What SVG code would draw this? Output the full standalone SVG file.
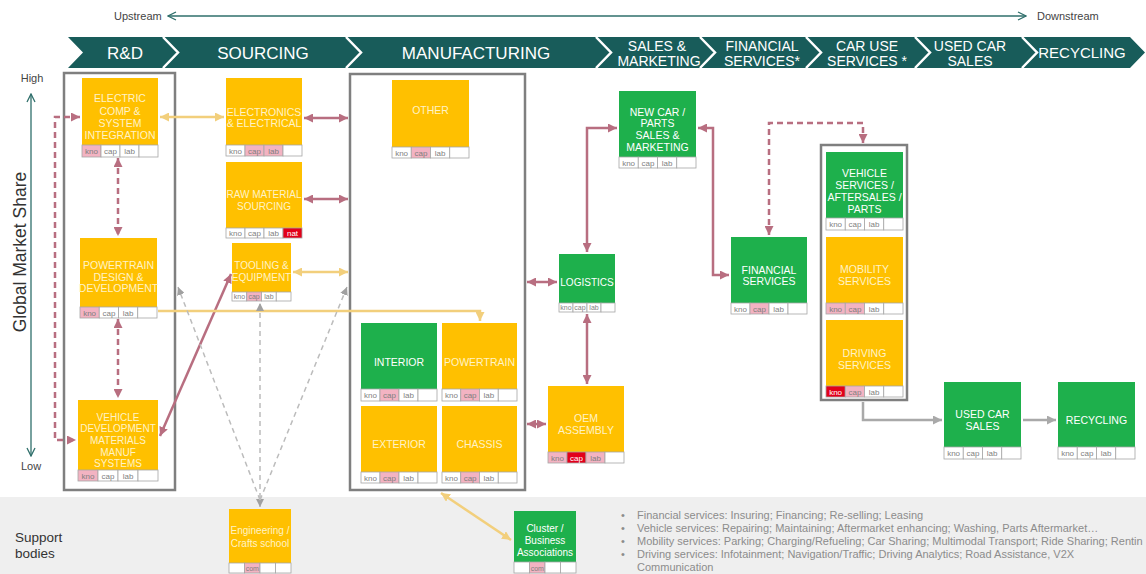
<svg xmlns="http://www.w3.org/2000/svg" width="1146" height="574" viewBox="0 0 1146 574">
<defs>
<style>
text{font-family:"Liberation Sans",Arial,sans-serif}
.y{fill:#ffc000}.g{fill:#1eb04c}
.c{fill:#fff;stroke:#a6a6a6;stroke-width:.8}.p{fill:#f3b3c2;stroke:#a6a6a6;stroke-width:.8}.r{fill:#e2001a;stroke:#a6a6a6;stroke-width:.8}
.nt{font-size:10.5px;text-anchor:middle;fill:#fff3c6}
.ng{font-size:10.5px;text-anchor:middle;fill:#fff}
.ct{font-size:8px;text-anchor:middle;fill:#7f7f7f}
.cw{fill:#fff}
.fr{fill:none;stroke:#7f7f7f;stroke-width:2.5}
.m{fill:none;stroke:#b86e80;stroke-width:2.5}
.md{fill:none;stroke:#b86e80;stroke-width:2.5;stroke-dasharray:6 4}
.yl{fill:none;stroke:#f2cf7c;stroke-width:2.5}
.gl{fill:none;stroke:#a9a9a9;stroke-width:2.5}
.gd{fill:none;stroke:#bcbcbc;stroke-width:1.5;stroke-dasharray:5 4}
.tl{fill:none;stroke:#2f6f6b;stroke-width:1.3}
.ch{fill:#fff;font-size:17px;text-anchor:middle}
.ch2{fill:#fff;font-size:14px;text-anchor:middle}
.bl{font-size:11px;fill:#8c8c8c}
.lb{font-size:11px;fill:#444}
</style>
<marker id="am" viewBox="0 0 10 10" refX="10" refY="5" markerWidth="9" markerHeight="9" markerUnits="userSpaceOnUse" orient="auto-start-reverse"><path d="M0,0 L10,5 L0,10 z" fill="#b86e80"/></marker>
<marker id="ay" viewBox="0 0 10 10" refX="10" refY="5" markerWidth="9" markerHeight="9" markerUnits="userSpaceOnUse" orient="auto-start-reverse"><path d="M0,0 L10,5 L0,10 z" fill="#f2cf7c"/></marker>
<marker id="ag" viewBox="0 0 10 10" refX="10" refY="5" markerWidth="9" markerHeight="9" markerUnits="userSpaceOnUse" orient="auto-start-reverse"><path d="M0,0 L10,5 L0,10 z" fill="#a9a9a9"/></marker>
<marker id="agl" viewBox="0 0 10 10" refX="10" refY="5" markerWidth="8" markerHeight="8" markerUnits="userSpaceOnUse" orient="auto-start-reverse"><path d="M0,0 L10,5 L0,10 z" fill="#a0a0a0"/></marker>
<marker id="at" viewBox="0 0 10 10" refX="9" refY="5" markerWidth="10" markerHeight="10" markerUnits="userSpaceOnUse" orient="auto-start-reverse"><path d="M1,1 L9,5 L1,9" fill="none" stroke="#2f6f6b" stroke-width="1.3"/></marker>
</defs>
<rect width="1146" height="574" fill="#fff"/>

<g id="header">
<text class="lb" x="114" y="20">Upstream</text>
<text class="lb" x="1037" y="20">Downstream</text>
<path class="tl" d="M168,16 H1026" marker-start="url(#at)" marker-end="url(#at)"/>
<polygon points="68,37 1130,37 1145,52.5 1130,68 68,68 83,52.5" fill="#185c5a"/>
<g fill="none" stroke="#fff" stroke-width="2.5">
<polyline points="163,37 178,52.5 163,68"/>
<polyline points="346,37 361,52.5 346,68"/>
<polyline points="596,37 611,52.5 596,68"/>
<polyline points="700,37 715,52.5 700,68"/>
<polyline points="806,37 821,52.5 806,68"/>
<polyline points="915,37 930,52.5 915,68"/>
<polyline points="1022,37 1037,52.5 1022,68"/>
</g>
<text class="ch" x="125" y="59">R&amp;D</text>
<text class="ch" x="263" y="59">SOURCING</text>
<text class="ch" x="476" y="59">MANUFACTURING</text>
<text class="ch2"><tspan x="657" y="51">SALES &amp;</tspan><tspan x="659" y="66">MARKETING</tspan></text>
<text class="ch2"><tspan x="762" y="51">FINANCIAL</tspan><tspan x="762" y="66">SERVICES*</tspan></text>
<text class="ch2"><tspan x="867" y="51">CAR USE</tspan><tspan x="867" y="66">SERVICES *</tspan></text>
<text class="ch2"><tspan x="970" y="51">USED CAR</tspan><tspan x="970" y="66">SALES</tspan></text>
<text class="ch2" x="1082" y="58" style="font-size:15px">RECYCLING</text>
</g>

<g id="axis">
<text class="lb" x="32" y="82" text-anchor="middle">High</text>
<text class="lb" x="31" y="470" text-anchor="middle">Low</text>
<path class="tl" d="M31,94 V456" stroke-width="1.5" marker-start="url(#at)" marker-end="url(#at)"/>
<text x="26" y="252" transform="rotate(-90 26 252)" text-anchor="middle" font-size="17.5" fill="#333">Global Market Share</text>
</g>

<rect id="support-band" x="0" y="497" width="1146" height="77" fill="#efefef"/>

<g id="frames">
<rect class="fr" x="64" y="73" width="111" height="417"/>
<rect class="fr" x="350" y="74" width="175" height="416"/>
<rect class="fr" x="821" y="145" width="86" height="255"/>
</g>

<g id="connectors">
<path class="md" d="M80,117 H55 V440 H76" marker-start="url(#am)" marker-end="url(#am)"/>
<path class="md" d="M118,158 V236" marker-start="url(#am)" marker-end="url(#am)"/>
<path class="md" d="M118,319 V398" marker-start="url(#am)" marker-end="url(#am)"/>
<path class="m" d="M160,436 L231,274" marker-start="url(#am)" marker-end="url(#am)"/>
<path class="yl" d="M160,117 H224" marker-start="url(#ay)" marker-end="url(#ay)"/>
<path class="m" d="M304,118 H348" marker-start="url(#am)" marker-end="url(#am)"/>
<path class="m" d="M304,199 H348" marker-start="url(#am)" marker-end="url(#am)"/>
<path class="yl" d="M293,272 H348" marker-start="url(#ay)" marker-end="url(#ay)"/>
<path class="yl" d="M158,311 H480 V321" marker-end="url(#ay)"/>
<path class="gd" d="M260,507 V303" marker-start="url(#agl)" marker-end="url(#agl)"/>
<path class="gd" d="M260,500 L178,287" marker-end="url(#agl)"/>
<path class="gd" d="M260,500 L347,287" marker-end="url(#agl)"/>
<path class="m" d="M527,282 H557" marker-start="url(#am)" marker-end="url(#am)"/>
<path class="m" d="M587,252 V128 H617" marker-start="url(#am)" marker-end="url(#am)"/>
<path class="m" d="M698,128 H713 V275 H729" marker-start="url(#am)" marker-end="url(#am)"/>
<path class="m" d="M587,314 V384" marker-start="url(#am)" marker-end="url(#am)"/>
<path class="m" d="M527,424 H546" marker-start="url(#am)" marker-end="url(#am)"/>
<path class="md" d="M769,235 V123 H863 V143" marker-start="url(#am)" marker-end="url(#am)"/>
<path class="gl" d="M863,402 V420 H942" marker-end="url(#ag)"/>
<path class="gl" d="M1023,420 H1056" marker-end="url(#ag)"/>
<path class="yl" d="M441,493 L511,540" marker-start="url(#ay)" marker-end="url(#ay)"/>
</g>

<g id="rd-electric">
<rect class="y" x="82" y="78" width="76" height="67"/>
<text class="nt"><tspan x="120" y="102">ELECTRIC</tspan><tspan x="120" y="115">COMP &amp;</tspan><tspan x="120" y="127">SYSTEM</tspan><tspan x="120" y="139">INTEGRATION</tspan></text>
<rect class="p" x="82" y="145" width="19" height="12"/><rect class="c" x="101" y="145" width="19" height="12"/><rect class="c" x="120" y="145" width="19" height="12"/><rect class="c" x="139" y="145" width="19" height="12"/>
<text class="ct" x="91.5" y="154">kno</text><text class="ct" x="110.5" y="154">cap</text><text class="ct" x="129.5" y="154">lab</text>
</g>

<g id="rd-powertrain">
<rect class="y" x="80" y="238" width="77" height="69"/>
<text class="nt"><tspan x="118.5" y="269">POWERTRAIN</tspan><tspan x="118.5" y="281">DESIGN &amp;</tspan><tspan x="118.5" y="292">DEVELOPMENT</tspan></text>
<rect class="p" x="80" y="307" width="19.25" height="11"/><rect class="c" x="99.25" y="307" width="19.25" height="11"/><rect class="c" x="118.5" y="307" width="19.25" height="11"/><rect class="c" x="137.75" y="307" width="19.25" height="11"/>
<text class="ct" x="89.6" y="315.5">kno</text><text class="ct" x="108.9" y="315.5">cap</text><text class="ct" x="128.1" y="315.5">lab</text>
</g>

<g id="rd-vehicle">
<rect class="y" x="78" y="400" width="80" height="70"/>
<text class="nt" style="font-size:10px"><tspan x="118" y="421">VEHICLE</tspan><tspan x="118" y="432">DEVELOPMENT</tspan><tspan x="118" y="444">MATERIALS</tspan><tspan x="118" y="456">MANUF</tspan><tspan x="118" y="467">SYSTEMS</tspan></text>
<rect class="p" x="78" y="470" width="20" height="11"/><rect class="c" x="98" y="470" width="20" height="11"/><rect class="c" x="118" y="470" width="20" height="11"/><rect class="c" x="138" y="470" width="20" height="11"/>
<text class="ct" x="88" y="478.5">kno</text><text class="ct" x="108" y="478.5">cap</text><text class="ct" x="128" y="478.5">lab</text>
</g>

<g id="src-electronics">
<rect class="y" x="226" y="78" width="76" height="67"/>
<text class="nt"><tspan x="264" y="116">ELECTRONICS</tspan><tspan x="264" y="127">&amp; ELECTRICAL</tspan></text>
<rect class="c" x="226" y="145" width="19" height="11"/><rect class="p" x="245" y="145" width="19" height="11"/><rect class="p" x="264" y="145" width="19" height="11"/><rect class="c" x="283" y="145" width="19" height="11"/>
<text class="ct" x="235.5" y="153.5">kno</text><text class="ct" x="254.5" y="153.5">cap</text><text class="ct" x="273.5" y="153.5">lab</text>
</g>

<g id="src-raw">
<rect class="y" x="226" y="162" width="76" height="66"/>
<text class="nt" style="font-size:10px"><tspan x="264" y="198">RAW MATERIAL</tspan><tspan x="264" y="210">SOURCING</tspan></text>
<rect class="c" x="226" y="228" width="19" height="10"/><rect class="c" x="245" y="228" width="19" height="10"/><rect class="c" x="264" y="228" width="19" height="10"/><rect class="r" x="283" y="228" width="19" height="10"/>
<text class="ct" x="235.5" y="236">kno</text><text class="ct" x="254.5" y="236">cap</text><text class="ct" x="273.5" y="236">lab</text><text class="ct cw" x="292.5" y="236">nat</text>
</g>

<g id="src-tooling">
<rect class="y" x="232" y="243" width="59" height="49"/>
<text class="nt" style="font-size:10px"><tspan x="261.5" y="269">TOOLING &amp;</tspan><tspan x="261.5" y="281">EQUIPMENT</tspan></text>
<rect class="c" x="232" y="292" width="14.75" height="9"/><rect class="p" x="246.75" y="292" width="14.75" height="9"/><rect class="c" x="261.5" y="292" width="14.75" height="9"/><rect class="c" x="276.25" y="292" width="14.75" height="9"/>
<text class="ct" x="239.4" y="299" style="font-size:7px">kno</text><text class="ct" x="254.1" y="299" style="font-size:7px">cap</text><text class="ct" x="268.9" y="299" style="font-size:7px">lab</text>
</g>

<g id="mf-other">
<rect class="y" x="392" y="80" width="77" height="67"/>
<text class="nt" x="430.5" y="114">OTHER</text>
<rect class="c" x="392" y="147" width="19.25" height="11"/><rect class="p" x="411.25" y="147" width="19.25" height="11"/><rect class="c" x="430.5" y="147" width="19.25" height="11"/><rect class="c" x="449.75" y="147" width="19.25" height="11"/>
<text class="ct" x="401.6" y="155.5">kno</text><text class="ct" x="420.9" y="155.5">cap</text><text class="ct" x="440.1" y="155.5">lab</text>
</g>

<g id="mf-interior">
<rect class="g" x="361" y="323" width="76" height="66"/>
<text class="ng" x="399" y="366">INTERIOR</text>
<rect class="c" x="361" y="389" width="19" height="12"/><rect class="p" x="380" y="389" width="19" height="12"/><rect class="c" x="399" y="389" width="19" height="12"/><rect class="c" x="418" y="389" width="19" height="12"/>
<text class="ct" x="370.5" y="398">kno</text><text class="ct" x="389.5" y="398">cap</text><text class="ct" x="408.5" y="398">lab</text>
</g>

<g id="mf-powertrain">
<rect class="y" x="442" y="323" width="75" height="66"/>
<text class="nt" x="479.5" y="366">POWERTRAIN</text>
<rect class="c" x="442" y="389" width="18.75" height="12"/><rect class="p" x="460.75" y="389" width="18.75" height="12"/><rect class="c" x="479.5" y="389" width="18.75" height="12"/><rect class="c" x="498.25" y="389" width="18.75" height="12"/>
<text class="ct" x="451.4" y="398">kno</text><text class="ct" x="470.1" y="398">cap</text><text class="ct" x="488.9" y="398">lab</text>
</g>

<g id="mf-exterior">
<rect class="y" x="361" y="406" width="76" height="66"/>
<text class="nt" x="399" y="448">EXTERIOR</text>
<rect class="c" x="361" y="472" width="19" height="11"/><rect class="p" x="380" y="472" width="19" height="11"/><rect class="c" x="399" y="472" width="19" height="11"/><rect class="c" x="418" y="472" width="19" height="11"/>
<text class="ct" x="370.5" y="480.5">kno</text><text class="ct" x="389.5" y="480.5">cap</text><text class="ct" x="408.5" y="480.5">lab</text>
</g>

<g id="mf-chassis">
<rect class="y" x="442" y="406" width="75" height="66"/>
<text class="nt" x="479.5" y="448">CHASSIS</text>
<rect class="c" x="442" y="472" width="18.75" height="11"/><rect class="p" x="460.75" y="472" width="18.75" height="11"/><rect class="c" x="479.5" y="472" width="18.75" height="11"/><rect class="c" x="498.25" y="472" width="18.75" height="11"/>
<text class="ct" x="451.4" y="480.5">kno</text><text class="ct" x="470.1" y="480.5">cap</text><text class="ct" x="488.9" y="480.5">lab</text>
</g>

<g id="oem-assembly">
<rect class="y" x="548" y="386" width="76" height="66"/>
<text class="nt"><tspan x="586" y="422">OEM</tspan><tspan x="586" y="434">ASSEMBLY</tspan></text>
<rect class="p" x="548" y="452" width="19" height="11"/><rect class="r" x="567" y="452" width="19" height="11"/><rect class="p" x="586" y="452" width="19" height="11"/><rect class="c" x="605" y="452" width="19" height="11"/>
<text class="ct" x="557.5" y="460.5">kno</text><text class="ct cw" x="576.5" y="460.5">cap</text><text class="ct" x="595.5" y="460.5">lab</text>
</g>

<g id="logistics">
<rect class="g" x="559" y="254" width="56" height="49"/>
<text class="ng" x="587" y="286" style="font-size:10px">LOGISTICS</text>
<rect class="c" x="559" y="303" width="14" height="9"/><rect class="c" x="573" y="303" width="14" height="9"/><rect class="c" x="587" y="303" width="14" height="9"/><rect class="c" x="601" y="303" width="14" height="9"/>
<text class="ct" x="566" y="310" style="font-size:7px">kno</text><text class="ct" x="580" y="310" style="font-size:7px">cap</text><text class="ct" x="594" y="310" style="font-size:7px">lab</text>
</g>

<g id="new-car-sales">
<rect class="g" x="619" y="91" width="77" height="66"/>
<text class="ng"><tspan x="657.5" y="116">NEW CAR /</tspan><tspan x="657.5" y="127">PARTS</tspan><tspan x="657.5" y="139">SALES &amp;</tspan><tspan x="657.5" y="151">MARKETING</tspan></text>
<rect class="c" x="619" y="157" width="19.25" height="11"/><rect class="c" x="638.25" y="157" width="19.25" height="11"/><rect class="c" x="657.5" y="157" width="19.25" height="11"/><rect class="c" x="676.75" y="157" width="19.25" height="11"/>
<text class="ct" x="628.6" y="165.5">kno</text><text class="ct" x="647.9" y="165.5">cap</text><text class="ct" x="667.1" y="165.5">lab</text>
</g>

<g id="financial-services">
<rect class="g" x="731" y="237" width="76" height="66"/>
<text class="ng"><tspan x="769" y="274">FINANCIAL</tspan><tspan x="769" y="285">SERVICES</tspan></text>
<rect class="c" x="731" y="303" width="19" height="11"/><rect class="p" x="750" y="303" width="19" height="11"/><rect class="c" x="769" y="303" width="19" height="11"/><rect class="c" x="788" y="303" width="19" height="11"/>
<text class="ct" x="740.5" y="311.5">kno</text><text class="ct" x="759.5" y="311.5">cap</text><text class="ct" x="778.5" y="311.5">lab</text>
</g>

<g id="vehicle-services">
<rect class="g" x="826" y="152" width="77" height="66"/>
<text class="ng"><tspan x="864.5" y="177">VEHICLE</tspan><tspan x="864.5" y="189">SERVICES /</tspan><tspan x="864.5" y="201">AFTERSALES /</tspan><tspan x="864.5" y="213">PARTS</tspan></text>
<rect class="c" x="826" y="218" width="19.25" height="12"/><rect class="c" x="845.25" y="218" width="19.25" height="12"/><rect class="c" x="864.5" y="218" width="19.25" height="12"/><rect class="c" x="883.75" y="218" width="19.25" height="12"/>
<text class="ct" x="835.6" y="227">kno</text><text class="ct" x="854.9" y="227">cap</text><text class="ct" x="874.1" y="227">lab</text>
</g>

<g id="mobility-services">
<rect class="y" x="826" y="237" width="77" height="66"/>
<text class="nt"><tspan x="864.5" y="273">MOBILITY</tspan><tspan x="864.5" y="285">SERVICES</tspan></text>
<rect class="p" x="826" y="303" width="19.25" height="11"/><rect class="p" x="845.25" y="303" width="19.25" height="11"/><rect class="c" x="864.5" y="303" width="19.25" height="11"/><rect class="c" x="883.75" y="303" width="19.25" height="11"/>
<text class="ct" x="835.6" y="311.5">kno</text><text class="ct" x="854.9" y="311.5">cap</text><text class="ct" x="874.1" y="311.5">lab</text>
</g>

<g id="driving-services">
<rect class="y" x="826" y="320" width="77" height="66"/>
<text class="nt"><tspan x="864.5" y="357">DRIVING</tspan><tspan x="864.5" y="369">SERVICES</tspan></text>
<rect class="r" x="826" y="386" width="19.25" height="11"/><rect class="p" x="845.25" y="386" width="19.25" height="11"/><rect class="c" x="864.5" y="386" width="19.25" height="11"/><rect class="c" x="883.75" y="386" width="19.25" height="11"/>
<text class="ct cw" x="835.6" y="394.5">kno</text><text class="ct" x="854.9" y="394.5">cap</text><text class="ct" x="874.1" y="394.5">lab</text>
</g>

<g id="used-car-sales">
<rect class="g" x="944" y="382" width="77" height="65"/>
<text class="ng"><tspan x="982.5" y="418">USED CAR</tspan><tspan x="982.5" y="430">SALES</tspan></text>
<rect class="c" x="944" y="447" width="19.25" height="12"/><rect class="c" x="963.25" y="447" width="19.25" height="12"/><rect class="c" x="982.5" y="447" width="19.25" height="12"/><rect class="c" x="1001.75" y="447" width="19.25" height="12"/>
<text class="ct" x="953.6" y="456">kno</text><text class="ct" x="972.9" y="456">cap</text><text class="ct" x="992.1" y="456">lab</text>
</g>

<g id="recycling">
<rect class="g" x="1058" y="382" width="77" height="65"/>
<text class="ng" x="1096.5" y="424">RECYCLING</text>
<rect class="c" x="1058" y="447" width="19.25" height="12"/><rect class="c" x="1077.25" y="447" width="19.25" height="12"/><rect class="c" x="1096.5" y="447" width="19.25" height="12"/><rect class="c" x="1115.75" y="447" width="19.25" height="12"/>
<text class="ct" x="1067.6" y="456">kno</text><text class="ct" x="1086.9" y="456">cap</text><text class="ct" x="1106.1" y="456">lab</text>
</g>

<g id="support-label">
<text font-size="13.5" fill="#333"><tspan x="15" y="542">Support</tspan><tspan x="15" y="558">bodies</tspan></text>
</g>

<g id="engineering-school">
<rect class="y" x="229" y="509" width="62" height="54"/>
<text class="nt" style="font-size:10px"><tspan x="260" y="534">Engineering /</tspan><tspan x="260" y="547">Crafts school</tspan></text>
<rect class="c" x="229" y="563" width="15.5" height="10"/><rect class="p" x="244.5" y="563" width="15.5" height="10"/><rect class="c" x="260" y="563" width="15.5" height="10"/><rect class="c" x="275.5" y="563" width="15.5" height="10"/>
<text class="ct" x="252.3" y="571" style="font-size:7px">com</text>
</g>

<g id="cluster-associations">
<rect class="g" x="514" y="511" width="62" height="51"/>
<text class="ng" style="font-size:10px"><tspan x="545" y="532">Cluster /</tspan><tspan x="545" y="544">Business</tspan><tspan x="545" y="556">Associations</tspan></text>
<rect class="c" x="514" y="562" width="15.5" height="11"/><rect class="p" x="529.5" y="562" width="15.5" height="11"/><rect class="c" x="545" y="562" width="15.5" height="11"/><rect class="c" x="560.5" y="562" width="15.5" height="11"/>
<text class="ct" x="537.3" y="570.5" style="font-size:7px">com</text>
</g>

<g id="notes">
<text class="bl"><tspan x="621" y="519">•</tspan><tspan x="637" y="519">Financial services: Insuring; Financing; Re-selling; Leasing</tspan></text>
<text class="bl"><tspan x="621" y="532">•</tspan><tspan x="637" y="532">Vehicle services: Repairing; Maintaining; Aftermarket enhancing; Washing, Parts Aftermarket…</tspan></text>
<text class="bl"><tspan x="621" y="545">•</tspan><tspan x="637" y="545">Mobility services: Parking; Charging/Refueling; Car Sharing; Multimodal Transport; Ride Sharing; Rentin</tspan></text>
<text class="bl"><tspan x="621" y="558">•</tspan><tspan x="637" y="558">Driving services: Infotainment; Navigation/Traffic; Driving Analytics; Road Assistance, V2X</tspan></text>
<text class="bl" x="637" y="571">Communication</text>
</g>
</svg>
